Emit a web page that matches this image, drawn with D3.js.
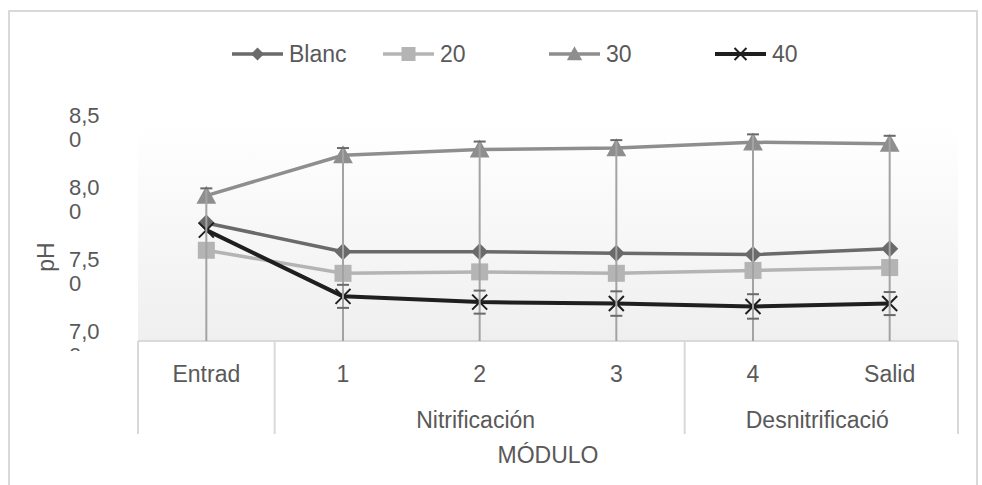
<!DOCTYPE html>
<html>
<head>
<meta charset="utf-8">
<script src="https://cdn.jsdelivr.net/npm/d3@7"></script>
<style>
  body { margin: 0; background: #fff; }
  text { font-family: "Liberation Sans", Arial, sans-serif; fill: #595959; }
</style>
</head>
<body>
<script>
// --- data ---
const categories = ["Entrad", "1", "2", "3", "4", "Salid"];
const groups = [
  { label: "", cats: ["Entrad"] },
  { label: "Nitrificación", cats: ["1", "2", "3"] },
  { label: "Desnitrificació", cats: ["4", "Salid"] },
];
const seriesNames = ["Blanc", "20", "30", "40"];
const blanc = [7.82, 7.62, 7.62, 7.61, 7.60, 7.64];
const s20 = [7.63, 7.47, 7.48, 7.47, 7.49, 7.51];
const s30 = [8.01, 8.29, 8.33, 8.34, 8.38, 8.37];
const s40 = [7.77, 7.31, 7.27, 7.26, 7.24, 7.26];
// error bars: 30 has a small plus and a large minus (runs off the axis)
const err30Plus = [0.05, 0.05, 0.055, 0.055, 0.055, 0.055];
const err30Minus = [1.2, 1.5, 1.5, 1.5, 1.5, 1.5];
const err40 = [0, 0.08, 0.08, 0.085, 0.085, 0.08];
const yTicks = [7.0, 7.5, 8.0, 8.5];
const yTickLabels = [["7,0", "0"], ["7,5", "0"], ["8,0", "0"], ["8,5", "0"]];

const width = 982;
const height = 485;
const plot = { left: 138, right: 958, top: 125, bottom: 341 };

const colors = { Blanc: "#6a6a6a", "20": "#b4b4b4", "30": "#8e8e8e", "40": "#1f1f1f" };
const seriesData = { Blanc: blanc, "20": s20, "30": s30, "40": s40 };

const svg = d3.select("body").append("svg")
  .attr("width", width)
  .attr("height", height);

// chart border
svg.append("rect")
  .attr("x", 9).attr("y", 11)
  .attr("width", 968).attr("height", 490)
  .attr("fill", "none")
  .attr("stroke", "#d9d9d9")
  .attr("stroke-width", 2);

const defs = svg.append("defs");
const grad = defs.append("linearGradient")
  .attr("id", "bg").attr("x1", 0).attr("y1", 0).attr("x2", 0).attr("y2", 1);
grad.append("stop").attr("offset", "0%").attr("stop-color", "#ffffff");
grad.append("stop").attr("offset", "100%").attr("stop-color", "#efefef");

defs.append("clipPath").attr("id", "plotclip")
  .append("rect")
  .attr("x", plot.left).attr("y", plot.top)
  .attr("width", plot.right - plot.left).attr("height", plot.bottom - plot.top);

// tick label clip, in the axis group's own coordinates
defs.append("clipPath").attr("id", "tickclip")
  .append("rect")
  .attr("x", -plot.left).attr("y", 0).attr("width", plot.left).attr("height", 351);

const x = d3.scaleBand().domain(categories).range([plot.left, plot.right]).padding(0);
const cx = (c) => x(c) + x.bandwidth() / 2;
const y = d3.scaleLinear().domain([7, 8.5]).range([plot.bottom, plot.top]);

// plot background
svg.append("rect")
  .attr("x", plot.left).attr("y", plot.top)
  .attr("width", plot.right - plot.left).attr("height", plot.bottom - plot.top)
  .attr("fill", "url(#bg)");

// y axis labels (wrapped like the original)
const yAxis = d3.axisLeft(y).tickValues(yTicks).tickSize(0).tickFormat("");
const yG = svg.append("g")
  .attr("transform", `translate(${plot.left},0)`)
  .attr("clip-path", "url(#tickclip)")
  .call(yAxis);
yG.select(".domain").remove();
yG.selectAll(".tick").each(function (d, i) {
  const t = d3.select(this).select("text")
    .attr("x", 69 - plot.left)
    .attr("dy", null)
    .attr("text-anchor", "start")
    .attr("font-size", 22)
    .attr("fill", "#595959")
    .attr("font-family", "Liberation Sans, Arial, sans-serif");
  t.append("tspan").attr("x", 69 - plot.left).attr("y", -3).text(yTickLabels[i][0]);
  t.append("tspan").attr("x", 69 - plot.left).attr("y", 21).text(yTickLabels[i][1]);
});

svg.append("text")
  .attr("transform", "translate(54,257) rotate(-90)")
  .attr("text-anchor", "middle")
  .attr("font-size", 23)
  .text("pH");

// category axis
const xAxis = d3.axisBottom(x).tickSize(0).tickPadding(0);
const xG = svg.append("g")
  .attr("transform", `translate(0,${plot.bottom})`)
  .call(xAxis);
xG.select(".domain").remove();
xG.selectAll("text")
  .attr("dy", null)
  .attr("y", 41)
  .attr("font-size", 23)
  .attr("fill", "#595959")
  .attr("font-family", "Liberation Sans, Arial, sans-serif");

svg.append("line")
  .attr("x1", plot.left).attr("x2", plot.right)
  .attr("y1", plot.bottom).attr("y2", plot.bottom)
  .attr("stroke", "#d9d9d9").attr("stroke-width", 2);

const bounds = [];
groups.forEach((g) => {
  const x0 = x(g.cats[0]);
  const x1 = x(g.cats[g.cats.length - 1]) + x.bandwidth();
  bounds.push(x0, x1);
  svg.append("text")
    .attr("x", (x0 + x1) / 2 - 4)
    .attr("y", 428)
    .attr("text-anchor", "middle")
    .attr("font-size", 23)
    .text(g.label);
});
svg.selectAll(".sep")
  .data(Array.from(new Set(bounds)))
  .join("line")
  .attr("class", "sep")
  .attr("x1", (d) => d).attr("x2", (d) => d)
  .attr("y1", plot.bottom).attr("y2", 434)
  .attr("stroke", "#d9d9d9").attr("stroke-width", 2);

svg.append("text")
  .attr("x", (plot.left + plot.right) / 2)
  .attr("y", 463)
  .attr("text-anchor", "middle")
  .attr("font-size", 23)
  .text("MÓDULO");

// markers
function marker(sel, name, s) {
  const c = colors[name];
  const h = s / 2;
  if (name === "Blanc") {
    sel.append("path").attr("d", `M0,${-h}L${h},0L0,${h}L${-h},0Z`).attr("fill", c);
  } else if (name === "20") {
    sel.append("rect").attr("x", -h).attr("y", -h).attr("width", s).attr("height", s).attr("fill", c);
  } else if (name === "30") {
    sel.append("path")
      .attr("d", `M0,${-s * 0.55}L${s * 0.55},${s * 0.45}L${-s * 0.55},${s * 0.45}Z`)
      .attr("fill", c);
  } else {
    sel.append("path")
      .attr("d", `M${-h},${-h}L${h},${h}M${-h},${h}L${h},${-h}`)
      .attr("stroke", c).attr("stroke-width", 2).attr("fill", "none");
  }
}
const markerSize = { Blanc: 17, "20": 17, "30": 18, "40": 15 };

const line = d3.line().x((d, i) => cx(categories[i])).y((d) => y(d));

seriesNames.forEach((name) => {
  const vals = seriesData[name];
  svg.append("path")
    .datum(vals)
    .attr("d", line)
    .attr("fill", "none")
    .attr("stroke", colors[name])
    .attr("stroke-width", name === "40" ? 4 : 3.5)
    .attr("stroke-linejoin", "round");
  svg.append("g").selectAll("g")
    .data(vals)
    .join("g")
    .attr("transform", (d, i) => `translate(${cx(categories[i])},${y(d)})`)
    .each(function () { marker(d3.select(this), name, markerSize[name]); });
});

// error bars
const errG = svg.append("g").attr("clip-path", "url(#plotclip)");
s30.forEach((v, i) => {
  const xc = cx(categories[i]);
  errG.append("line")
    .attr("x1", xc).attr("x2", xc)
    .attr("y1", y(v + err30Plus[i])).attr("y2", y(v - err30Minus[i]))
    .attr("stroke", "#a3a3a3").attr("stroke-width", 2);
  errG.append("line")
    .attr("x1", xc - 6).attr("x2", xc + 6)
    .attr("y1", y(v + err30Plus[i])).attr("y2", y(v + err30Plus[i]))
    .attr("stroke", "#6a6a6a").attr("stroke-width", 2);
});
s40.forEach((v, i) => {
  if (!err40[i]) return;
  const xc = cx(categories[i]);
  [v + err40[i], v - err40[i]].forEach((e) => {
    errG.append("line")
      .attr("x1", xc - 6).attr("x2", xc + 6)
      .attr("y1", y(e)).attr("y2", y(e))
      .attr("stroke", "#6a6a6a").attr("stroke-width", 2);
  });
});

// legend
const legendX = [232, 383, 549, 715];
const legend = svg.append("g").attr("transform", "translate(0,54)");
seriesNames.forEach((name, i) => {
  const g = legend.append("g").attr("transform", `translate(${legendX[i]},0)`);
  g.append("line")
    .attr("x1", 0).attr("x2", 51)
    .attr("stroke", colors[name])
    .attr("stroke-width", name === "40" ? 4 : 3.5);
  const m = g.append("g").attr("transform", "translate(25.5,0)");
  marker(m, name, name === "Blanc" ? 13 : name === "40" ? 12 : 14);
  g.append("text")
    .attr("x", 57)
    .attr("y", 8)
    .attr("font-size", 23)
    .text(name);
});
</script>
</body>
</html>
